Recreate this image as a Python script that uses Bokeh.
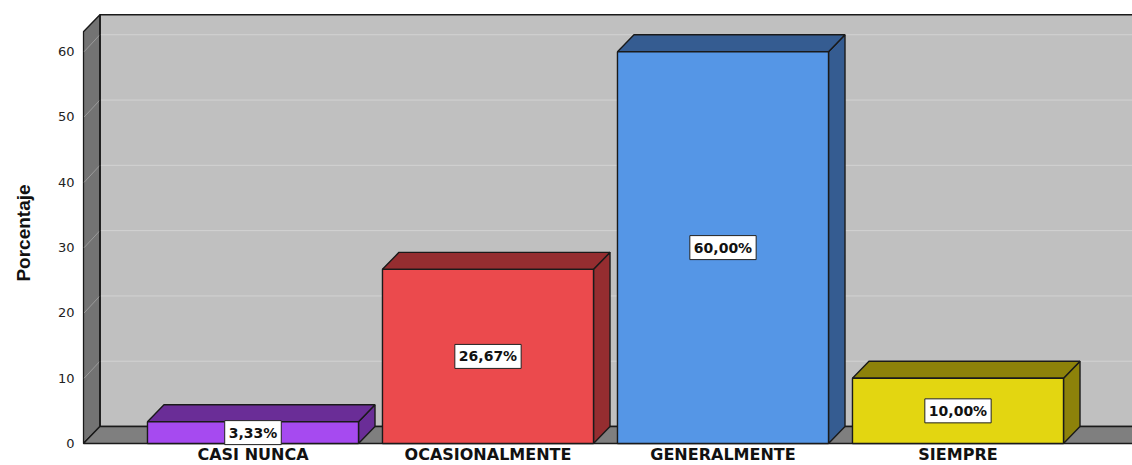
from bokeh.plotting import figure
from bokeh.models import Range1d, FixedTicker, ColumnDataSource
from bokeh.core.properties import value
from bokeh.embed import file_html
from bokeh.resources import INLINE

# ---- data ----
categories = ["CASI NUNCA", "OCASIONALMENTE", "GENERALMENTE", "SIEMPRE"]
percentages = [3.33, 26.67, 60.00, 10.00]
y_ticks = [0, 10, 20, 30, 40, 50, 60]
front_colors = ["#A64AF0", "#EB4A4D", "#5596E6", "#E3D611"]
shade_colors = ["#6A2D97", "#952D30", "#355C91", "#8D820A"]

# ---- geometry (data units) ----
X0, X1 = -0.7255, 3.7426
Y0, Y1 = -3.37, 67.84
BAR_W = 0.898
DX = 0.0702          # depth offset along x
DY = 2.6             # depth offset along y
WALL_TOP = 65.66
LABEL_Y = -1.75
xL = X0 + 0.004
xR = X1 + 0.2

p = figure(width=1132, height=465, x_range=Range1d(X0, X1), y_range=Range1d(Y0, Y1),
           output_backend="svg", toolbar_location=None,
           min_border_left=82, min_border_right=0, min_border_top=0, min_border_bottom=0)
p.outline_line_color = None
p.background_fill_color = "white"
p.border_fill_color = "white"
p.xgrid.visible = False
p.ygrid.visible = False

edge = dict(line_color="#1a1a1a", line_width=1.4)

# back wall
p.patch([xL + DX, xR, xR, xL + DX], [DY, DY, WALL_TOP, WALL_TOP],
        fill_color="#C0C0C0", **edge)
# left wall
p.patch([xL, xL + DX, xL + DX, xL], [0, DY, WALL_TOP, WALL_TOP - DY],
        fill_color="#737373", **edge)
# floor
p.patch([xL, xR, xR, xL + DX], [0, 0, DY, DY], fill_color="#7F7F7F", **edge)

# gridlines on back wall and left wall
gx, gy, lx, ly = [], [], [], []
for t in y_ticks[1:]:
    gx.append([xL + DX + 0.004, xR]); gy.append([t + DY, t + DY])
    lx.append([xL + 0.003, xL + DX]); ly.append([t, t + DY])
p.multi_line(gx, gy, line_color="#D2D2D2", line_width=1)
p.multi_line(lx, ly, line_color="#9A9A9A", line_width=1)
p.line([xL + DX, xL + DX], [DY, WALL_TOP], line_color="#1a1a1a", line_width=1.4)

# bars
fx, fy, tx, ty, sx, sy = [], [], [], [], [], []
for i, v in enumerate(percentages):
    a, b = i - BAR_W / 2, i + BAR_W / 2
    fx.append([a, b, b, a]); fy.append([0, 0, v, v])
    tx.append([a, b, b + DX, a + DX]); ty.append([v, v, v + DY, v + DY])
    sx.append([b, b + DX, b + DX, b]); sy.append([0, DY, v + DY, v])

p.patches(sx, sy, fill_color=shade_colors, **edge)
p.patches(tx, ty, fill_color=shade_colors, **edge)
p.patches(fx, fy, fill_color=front_colors, **edge)

# data labels
labels = [f"{v:.2f}".replace(".", ",") + "%" for v in percentages]
src = ColumnDataSource(dict(x=list(range(len(categories))),
                            y=[v / 2 for v in percentages], t=labels,
                            c=categories, ly=[LABEL_Y] * len(categories)))
p.text(x="x", y="y", text="t", source=src, text_align="center", text_baseline="middle",
       text_font=value("DejaVu Sans"), text_font_style="bold", text_font_size="14px",
       text_color="#111111", background_fill_color="white",
       border_line_color="#222222", border_line_width=1, padding=4)

# category labels (x axis)
p.text(x="x", y="ly", text="c", source=src, text_align="center", text_baseline="middle",
       text_font=value("DejaVu Sans"), text_font_style="bold", text_font_size="16px",
       text_color="#111111")
p.xaxis.visible = False

# y axis
p.yaxis.ticker = FixedTicker(ticks=y_ticks)
p.yaxis.axis_line_color = None
p.yaxis.major_tick_line_color = None
p.yaxis.minor_tick_line_color = None
p.yaxis.major_tick_out = 0
p.yaxis.major_tick_in = 0
p.yaxis.minor_tick_out = 0
p.yaxis.major_label_standoff = 8
p.yaxis.major_label_text_font = "DejaVu Sans"
p.yaxis.major_label_text_font_size = "13px"
p.yaxis.major_label_text_color = "#222222"
p.yaxis.axis_label = "Porcentaje"
p.yaxis.axis_label_standoff = 21
p.yaxis.axis_label_text_font = "Liberation Sans"
p.yaxis.axis_label_text_font_style = "bold"
p.yaxis.axis_label_text_font_size = "19px"
p.yaxis.axis_label_text_color = "#111111"

open("out.html", "w").write(file_html(p, INLINE))
